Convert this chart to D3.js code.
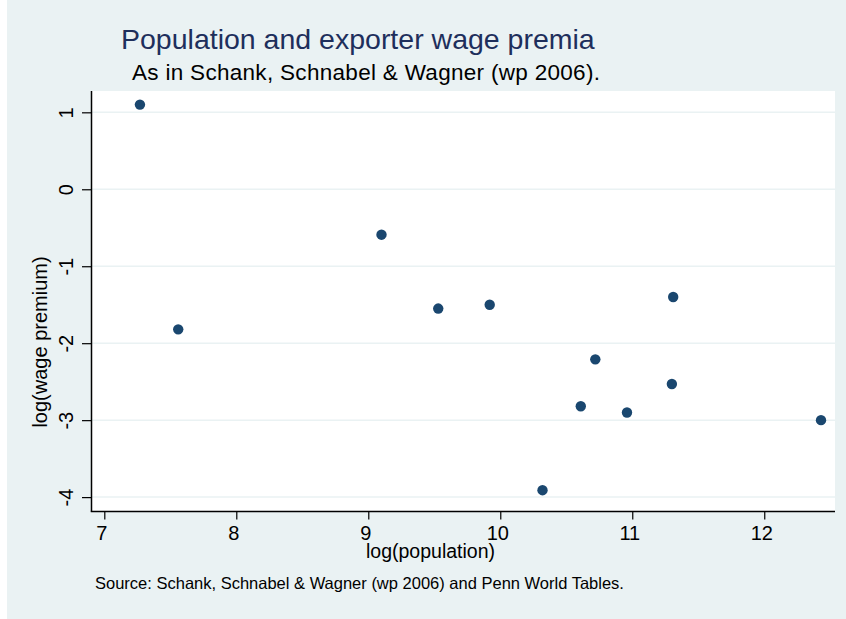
<!DOCTYPE html>
<html>
<head>
<meta charset="utf-8">
<script src="https://cdn.jsdelivr.net/npm/d3@7"></script>
<style>
  html, body { margin: 0; padding: 0; background: #ffffff; }
  svg { display: block; font-family: "Liberation Sans", Arial, sans-serif; }
</style>
</head>
<body>
<svg id="chart" width="846" height="619"></svg>
<script>
// data
var logPop  = [7.27, 7.56, 9.10, 9.53, 9.92, 10.32, 10.61, 10.72, 10.96, 11.30, 11.31, 12.43];
var logWage = [1.10, -1.82, -0.59, -1.55, -1.50, -3.91, -2.82, -2.21, -2.90, -2.53, -1.40, -3.00];
var xTicks = [7, 8, 9, 10, 11, 12];
var yTicks = [1, 0, -1, -2, -3, -4];

var titleText = "Population and exporter wage premia";
var subtitleText = "As in Schank, Schnabel & Wagner (wp 2006).";
var noteText = "Source: Schank, Schnabel & Wagner (wp 2006) and Penn World Tables.";

window.onload = function(){
    drawChart();
};

function drawChart(){
    let svg = d3.select("#chart");

    // outer background (stata style), thin white strip on the left
    svg.append("rect")
        .attr("x", 7).attr("y", 0)
        .attr("width", 839).attr("height", 619)
        .attr("fill", "#eaf2f3");

    let left = 91.5, right = 835, top = 91, bottom = 511.5;

    let xScale = d3.scaleLinear().domain([6.903, 12.536]).range([left, right]);
    let yScale = d3.scaleLinear().domain([-4.187, 1.277]).range([bottom, top]);

    // plot region
    svg.append("rect")
        .attr("x", left).attr("y", top)
        .attr("width", right - left).attr("height", bottom - top)
        .attr("fill", "#ffffff");

    // grid lines
    svg.append("g").selectAll("line").data(yTicks)
        .enter()
        .append("line")
        .attr("x1", left).attr("x2", right)
        .attr("y1", function(d){ return yScale(d); })
        .attr("y2", function(d){ return yScale(d); })
        .attr("stroke", "#eaf2f3")
        .attr("stroke-width", 1.5);

    // y axis
    let yAxis = d3.axisLeft(yScale).tickValues(yTicks).tickSize(9.5).tickSizeOuter(0).tickFormat(d3.format("d"));
    let gy = svg.append("g")
        .attr("transform", "translate(" + left + ",0)")
        .call(yAxis);
    gy.select(".domain").attr("stroke", "#000").attr("stroke-width", 1.5)
        .attr("d", "M0," + top + "V" + bottom);
    gy.selectAll(".tick line").attr("stroke", "#000").attr("stroke-width", 1.2);
    gy.selectAll(".tick text")
        .attr("font-size", 20)
        .attr("font-family", "Liberation Sans, Arial, sans-serif")
        .attr("fill", "#000")
        .attr("text-anchor", "middle")
        .attr("x", 0).attr("y", 0).attr("dy", 0)
        .attr("transform", "translate(-19,0) rotate(-90)");
    gy.selectAll(".tick text").text(function(d){ return d < 0 ? "-" + Math.abs(d) : d; });

    // x axis
    let xAxis = d3.axisBottom(xScale).tickValues(xTicks).tickSize(8).tickSizeOuter(0).tickFormat(d3.format("d"));
    let gx = svg.append("g")
        .attr("transform", "translate(0," + bottom + ")")
        .call(xAxis);
    gx.select(".domain").attr("stroke", "#000").attr("stroke-width", 1.5)
        .attr("d", "M" + (left - 0.75) + ",0H" + right);
    gx.selectAll(".tick line").attr("stroke", "#000").attr("stroke-width", 1.2);
    gx.selectAll(".tick text")
        .attr("font-size", 20)
        .attr("font-family", "Liberation Sans, Arial, sans-serif")
        .attr("fill", "#000")
        .attr("x", -3)
        .attr("y", 28.5).attr("dy", 0);

    // points
    svg.append("g").selectAll("circle").data(logPop)
        .enter()
        .append("circle")
        .attr("cx", function(d, i){ return xScale(d); })
        .attr("cy", function(d, i){ return yScale(logWage[i]); })
        .attr("r", 5.2)
        .attr("fill", "#1a476f");

    // axis titles (stata centres these on the whole graph, not the plot)
    svg.append("text")
        .attr("x", 430.5).attr("y", 558)
        .attr("text-anchor", "middle")
        .attr("font-size", 19.5)
        .attr("fill", "#000")
        .text("log(population)");

    svg.append("text")
        .attr("transform", "translate(47,342) rotate(-90)")
        .attr("text-anchor", "middle")
        .attr("font-size", 20)
        .attr("fill", "#000")
        .text("log(wage premium)");

    // titles
    svg.append("text")
        .attr("x", 121).attr("y", 48.5)
        .attr("font-size", 28.5)
        .attr("fill", "#1e2f5c")
        .text(titleText);

    svg.append("text")
        .attr("x", 132).attr("y", 80)
        .attr("font-size", 22.5)
        .attr("letter-spacing", 0.3)
        .attr("fill", "#000")
        .text(subtitleText);

    svg.append("text")
        .attr("x", 95).attr("y", 589)
        .attr("font-size", 16.5)
        .attr("fill", "#000")
        .text(noteText);
}
</script>
</body>
</html>
